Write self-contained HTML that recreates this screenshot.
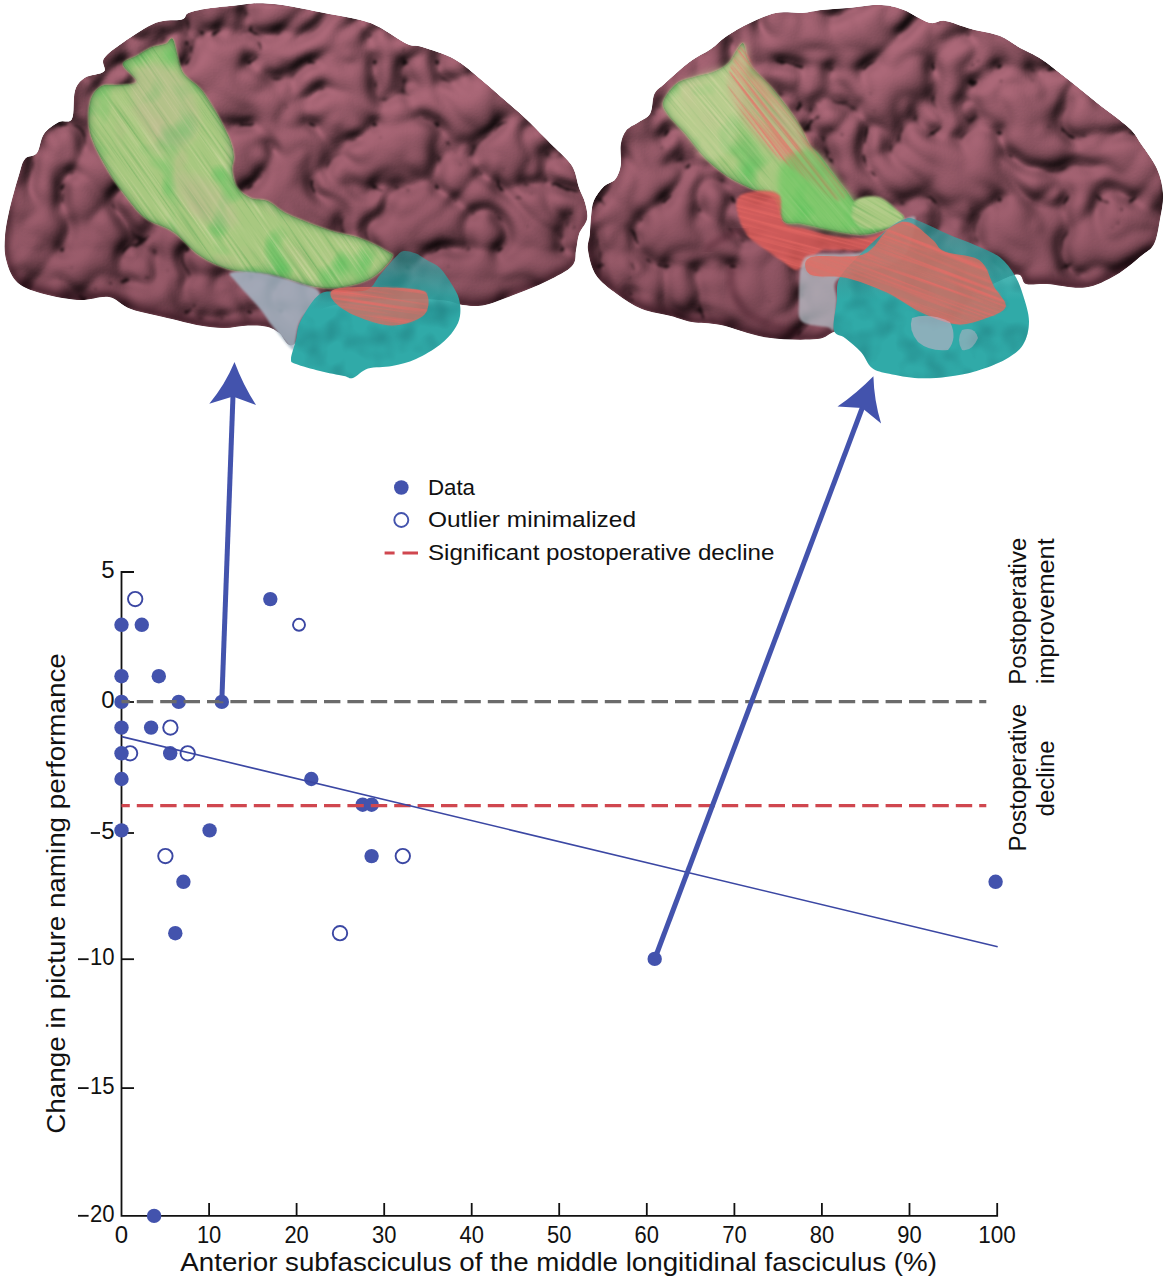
<!DOCTYPE html>
<html><head><meta charset="utf-8"><style>
html,body{margin:0;padding:0;background:#fff;width:1168px;height:1280px;overflow:hidden}
svg{display:block}
text{font-family:"Liberation Sans",sans-serif;fill:#111}
</style></head><body>
<svg width="1168" height="1280" viewBox="0 0 1168 1280">
<defs>
<filter color-interpolation-filters="sRGB" id="bumpsL" x="0" y="0" width="600" height="400" filterUnits="userSpaceOnUse">
 <feTurbulence type="turbulence" baseFrequency="0.016" numOctaves="2" seed="3" result="n"/>
 <feColorMatrix in="n" type="matrix" values="0 0 0 0 0  0 0 0 0 0  0 0 0 0 0  1 0 0 0 0" result="a"/>
 <feComponentTransfer in="a" result="b"><feFuncA type="table" tableValues="0 0.55 0.8 0.92 1 1 1"/></feComponentTransfer>
 <feGaussianBlur in="b" stdDeviation="3.5" result="bb"/>
 <feDiffuseLighting in="bb" surfaceScale="11" lighting-color="#fff" result="l"><feDistantLight azimuth="235" elevation="60"/></feDiffuseLighting>
 <feComponentTransfer in="b" result="b2"><feFuncA type="table" tableValues="0 0.7 1 1 1 1 1 1 1"/></feComponentTransfer>
 <feGaussianBlur in="b2" stdDeviation="1.4" result="bb2"/>
 <feColorMatrix in="bb2" type="matrix" values="0 0 0 0.85 0.15  0 0 0 0.85 0.15  0 0 0 0.85 0.15  0 0 0 0 1" result="dk"/>
 <feComposite in="l" in2="SourceGraphic" operator="arithmetic" k1="1.155" k2="0" k3="0" k4="0" result="m"/>
 <feComposite in="m" in2="dk" operator="arithmetic" k1="1" k2="0" k3="0" k4="0" result="m2"/>
 <feComposite in="m2" in2="SourceAlpha" operator="in"/>
</filter>
<filter color-interpolation-filters="sRGB" id="bumpsR" x="580" y="0" width="588" height="400" filterUnits="userSpaceOnUse">
 <feTurbulence type="turbulence" baseFrequency="0.015" numOctaves="2" seed="17" result="n"/>
 <feColorMatrix in="n" type="matrix" values="0 0 0 0 0  0 0 0 0 0  0 0 0 0 0  1 0 0 0 0" result="a"/>
 <feComponentTransfer in="a" result="b"><feFuncA type="table" tableValues="0 0.55 0.8 0.92 1 1 1"/></feComponentTransfer>
 <feGaussianBlur in="b" stdDeviation="3.5" result="bb"/>
 <feDiffuseLighting in="bb" surfaceScale="11" lighting-color="#fff" result="l"><feDistantLight azimuth="235" elevation="60"/></feDiffuseLighting>
 <feComponentTransfer in="b" result="b2"><feFuncA type="table" tableValues="0 0.7 1 1 1 1 1 1 1"/></feComponentTransfer>
 <feGaussianBlur in="b2" stdDeviation="1.4" result="bb2"/>
 <feColorMatrix in="bb2" type="matrix" values="0 0 0 0.85 0.15  0 0 0 0.85 0.15  0 0 0 0.85 0.15  0 0 0 0 1" result="dk"/>
 <feComposite in="l" in2="SourceGraphic" operator="arithmetic" k1="1.155" k2="0" k3="0" k4="0" result="m"/>
 <feComposite in="m" in2="dk" operator="arithmetic" k1="1" k2="0" k3="0" k4="0" result="m2"/>
 <feComposite in="m2" in2="SourceAlpha" operator="in"/>
</filter>
<filter color-interpolation-filters="sRGB" id="soft" x="-20%" y="-20%" width="140%" height="140%"><feGaussianBlur stdDeviation="1.3"/></filter>
<filter color-interpolation-filters="sRGB" id="disp" x="0" y="0" width="1168" height="400" filterUnits="userSpaceOnUse">
 <feTurbulence type="fractalNoise" baseFrequency="0.06" numOctaves="2" seed="5" result="dn"/>
 <feDisplacementMap in="SourceGraphic" in2="dn" scale="7" xChannelSelector="R" yChannelSelector="G"/>
</filter>
<filter color-interpolation-filters="sRGB" id="gedge" x="0" y="0" width="1168" height="400" filterUnits="userSpaceOnUse">
 <feGaussianBlur in="SourceAlpha" stdDeviation="4" result="bl"/>
 <feComposite in="SourceAlpha" in2="bl" operator="out" result="edge"/>
 <feFlood flood-color="#2f7a3a" flood-opacity="0.9"/>
 <feComposite in2="edge" operator="in" result="sh"/>
 <feComposite in="sh" in2="SourceAlpha" operator="in"/>
</filter>
<linearGradient id="shadeG" x1="0" y1="90" x2="0" y2="330" gradientUnits="userSpaceOnUse"><stop offset="0" stop-color="#2a0d16" stop-opacity="0"/><stop offset="1" stop-color="#2a0d16" stop-opacity="0.2"/></linearGradient>
<linearGradient id="cyL" x1="0" y1="250" x2="0" y2="310" gradientUnits="userSpaceOnUse"><stop offset="0" stop-color="#30aaa8" stop-opacity="0.5"/><stop offset="1" stop-color="#30aaa8" stop-opacity="1"/></linearGradient>
<linearGradient id="cyR" x1="0" y1="220" x2="0" y2="300" gradientUnits="userSpaceOnUse"><stop offset="0" stop-color="#30aaa8" stop-opacity="0.6"/><stop offset="1" stop-color="#30aaa8" stop-opacity="1"/></linearGradient>
<filter color-interpolation-filters="sRGB" id="fib" x="-600" y="-800" width="2400" height="2000" filterUnits="userSpaceOnUse">
 <feTurbulence type="fractalNoise" baseFrequency="0.01 0.45" numOctaves="2" seed="4" result="n1"/>
 <feTurbulence type="fractalNoise" baseFrequency="0.025" numOctaves="2" seed="31" result="n2"/>
 <feFlood flood-color="rgb(168,200,128)" result="base"/>
 <feColorMatrix in="n2" type="matrix" values="0 0 0 0 0.78  0 0 0 0 0.70  0 0 0 0 0.58  0 1.6 0 0 -0.9" result="pink"/>
 <feColorMatrix in="n2" type="matrix" values="0 0 0 0 0.34  0 0 0 0 0.76  0 0 0 0 0.36  3.0 0 0 0 -1.6" result="patch"/>
 <feColorMatrix in="n1" type="matrix" values="0 0 0 0 0.84  0 0 0 0 0.86  0 0 0 0 0.66  1.8 0 0 0 -0.95" result="lite"/>
 <feColorMatrix in="n1" type="matrix" values="0 0 0 0 0.38  0 0 0 0 0.66  0 0 0 0 0.34  -1.8 0 0 0 0.8" result="dark"/>
 <feMerge><feMergeNode in="base"/><feMergeNode in="pink"/><feMergeNode in="patch"/><feMergeNode in="lite"/><feMergeNode in="dark"/></feMerge>
</filter>
<filter color-interpolation-filters="sRGB" id="rim" x="0" y="0" width="1168" height="400" filterUnits="userSpaceOnUse">
 <feGaussianBlur in="SourceAlpha" stdDeviation="5" result="bl"/>
 <feOffset in="bl" dx="2" dy="-6" result="off"/>
 <feComposite in="SourceAlpha" in2="off" operator="out" result="edge"/>
 <feGaussianBlur in="edge" stdDeviation="1.5" result="edge2"/>
 <feFlood flood-color="#2a0f18" flood-opacity="0.75"/>
 <feComposite in2="edge2" operator="in" result="sh"/>
 <feComposite in="sh" in2="SourceAlpha" operator="in"/>
</filter>
<filter color-interpolation-filters="sRGB" id="cyt" x="0" y="0" width="1168" height="400" filterUnits="userSpaceOnUse">
 <feTurbulence type="fractalNoise" baseFrequency="0.04" numOctaves="2" seed="8" result="n"/>
 <feColorMatrix in="n" type="matrix" values="0 0 0 0 0  0 0 0 0 0  0 0 0 0 0  -1.4 0 0 0 0.8" result="a"/>
 <feFlood flood-color="#1d7478" result="f"/>
 <feComposite in="f" in2="a" operator="in" result="d"/>
 <feComposite in="d" in2="SourceAlpha" operator="in"/>
</filter>
<filter color-interpolation-filters="sRGB" id="redt" x="-600" y="-800" width="2400" height="2000" filterUnits="userSpaceOnUse">
 <feTurbulence type="fractalNoise" baseFrequency="0.008 0.3" numOctaves="2" seed="12" result="n"/>
 <feColorMatrix in="n" type="matrix" values="0 0 0 0 0.92  0 0 0 0 0.42  0 0 0 0 0.40  3 0 0 0 -1.3" result="a"/>
 <feComposite in="a" in2="SourceAlpha" operator="in"/>
</filter>
<filter color-interpolation-filters="sRGB" id="soft3"><feGaussianBlur stdDeviation="3"/></filter>
</defs>
<path d="M5.0 237.0 C5.5 229.2 6.7 222.3 9.0 212.0 C11.3 201.7 16.3 183.8 19.0 175.0 C21.7 166.2 22.0 162.7 25.0 159.0 C28.0 155.3 33.8 157.2 37.0 153.0 C40.2 148.8 40.3 139.2 44.0 134.0 C47.7 128.8 54.3 124.5 59.0 122.0 C63.7 119.5 69.3 124.2 72.0 119.0 C74.7 113.8 72.9 97.8 75.0 91.0 C77.1 84.2 79.8 81.2 84.6 78.0 C89.4 74.8 100.8 74.8 104.0 71.6 C107.2 68.4 100.7 63.5 104.0 58.6 C107.3 53.7 114.9 48.3 123.6 42.3 C132.3 36.3 146.3 26.6 156.0 22.8 C165.7 19.0 176.6 21.1 182.0 19.5 C187.4 17.9 183.8 14.9 188.7 13.0 C193.6 11.1 202.8 9.4 211.5 8.1 C220.2 6.8 232.6 5.7 240.7 4.9 C248.8 4.1 252.1 3.1 260.0 3.3 C267.9 3.5 276.5 4.2 288.0 6.0 C299.5 7.8 317.0 11.7 329.0 14.0 C341.0 16.3 351.7 17.8 360.0 20.0 C368.3 22.2 371.2 23.0 379.0 27.0 C386.8 31.0 399.8 40.7 407.0 44.0 C414.2 47.3 414.2 44.5 422.0 47.0 C429.8 49.5 444.5 53.8 454.0 59.0 C463.5 64.2 471.2 71.7 479.0 78.0 C486.8 84.3 493.2 90.2 501.0 97.0 C508.8 103.8 519.3 112.8 526.0 119.0 C532.7 125.2 536.3 129.3 541.0 134.0 C545.7 138.7 548.8 141.7 554.0 147.0 C559.2 152.3 567.8 159.2 572.0 166.0 C576.2 172.8 576.8 181.8 579.0 188.0 C581.2 194.2 583.7 197.8 585.0 203.0 C586.3 208.2 588.0 213.8 587.0 219.0 C586.0 224.2 580.8 228.8 579.0 234.0 C577.2 239.2 577.2 244.7 576.0 250.0 C574.8 255.3 576.8 260.8 572.0 266.0 C567.2 271.2 556.3 276.3 547.0 281.0 C537.7 285.7 526.3 290.0 516.0 294.0 C505.7 298.0 493.8 303.2 485.0 305.0 C476.2 306.8 470.5 305.8 463.0 305.0 C455.5 304.2 453.8 300.8 440.0 300.0 C426.2 299.2 400.0 298.3 380.0 300.0 C360.0 301.7 334.4 302.6 320.0 310.0 C305.6 317.4 300.3 340.9 293.5 344.7 C286.7 348.5 283.4 335.7 279.0 332.7 C274.6 329.7 272.2 327.9 267.0 326.7 C261.8 325.5 255.2 325.3 248.0 325.5 C240.8 325.7 232.0 328.0 224.0 328.0 C216.0 328.0 208.7 327.0 200.0 325.5 C191.3 324.0 183.5 321.8 172.0 319.0 C160.5 316.2 141.5 312.7 131.0 309.0 C120.5 305.3 117.8 298.5 109.0 297.0 C100.2 295.5 90.0 300.8 78.0 300.0 C66.0 299.2 47.3 295.2 37.0 292.0 C26.7 288.8 21.2 286.5 16.0 281.0 C10.8 275.5 7.8 266.3 6.0 259.0 C4.2 251.7 4.5 244.8 5.0 237.0Z" fill="#955a68" filter="url(#bumpsL)"/>
<path d="M5.0 237.0 C5.5 229.2 6.7 222.3 9.0 212.0 C11.3 201.7 16.3 183.8 19.0 175.0 C21.7 166.2 22.0 162.7 25.0 159.0 C28.0 155.3 33.8 157.2 37.0 153.0 C40.2 148.8 40.3 139.2 44.0 134.0 C47.7 128.8 54.3 124.5 59.0 122.0 C63.7 119.5 69.3 124.2 72.0 119.0 C74.7 113.8 72.9 97.8 75.0 91.0 C77.1 84.2 79.8 81.2 84.6 78.0 C89.4 74.8 100.8 74.8 104.0 71.6 C107.2 68.4 100.7 63.5 104.0 58.6 C107.3 53.7 114.9 48.3 123.6 42.3 C132.3 36.3 146.3 26.6 156.0 22.8 C165.7 19.0 176.6 21.1 182.0 19.5 C187.4 17.9 183.8 14.9 188.7 13.0 C193.6 11.1 202.8 9.4 211.5 8.1 C220.2 6.8 232.6 5.7 240.7 4.9 C248.8 4.1 252.1 3.1 260.0 3.3 C267.9 3.5 276.5 4.2 288.0 6.0 C299.5 7.8 317.0 11.7 329.0 14.0 C341.0 16.3 351.7 17.8 360.0 20.0 C368.3 22.2 371.2 23.0 379.0 27.0 C386.8 31.0 399.8 40.7 407.0 44.0 C414.2 47.3 414.2 44.5 422.0 47.0 C429.8 49.5 444.5 53.8 454.0 59.0 C463.5 64.2 471.2 71.7 479.0 78.0 C486.8 84.3 493.2 90.2 501.0 97.0 C508.8 103.8 519.3 112.8 526.0 119.0 C532.7 125.2 536.3 129.3 541.0 134.0 C545.7 138.7 548.8 141.7 554.0 147.0 C559.2 152.3 567.8 159.2 572.0 166.0 C576.2 172.8 576.8 181.8 579.0 188.0 C581.2 194.2 583.7 197.8 585.0 203.0 C586.3 208.2 588.0 213.8 587.0 219.0 C586.0 224.2 580.8 228.8 579.0 234.0 C577.2 239.2 577.2 244.7 576.0 250.0 C574.8 255.3 576.8 260.8 572.0 266.0 C567.2 271.2 556.3 276.3 547.0 281.0 C537.7 285.7 526.3 290.0 516.0 294.0 C505.7 298.0 493.8 303.2 485.0 305.0 C476.2 306.8 470.5 305.8 463.0 305.0 C455.5 304.2 453.8 300.8 440.0 300.0 C426.2 299.2 400.0 298.3 380.0 300.0 C360.0 301.7 334.4 302.6 320.0 310.0 C305.6 317.4 300.3 340.9 293.5 344.7 C286.7 348.5 283.4 335.7 279.0 332.7 C274.6 329.7 272.2 327.9 267.0 326.7 C261.8 325.5 255.2 325.3 248.0 325.5 C240.8 325.7 232.0 328.0 224.0 328.0 C216.0 328.0 208.7 327.0 200.0 325.5 C191.3 324.0 183.5 321.8 172.0 319.0 C160.5 316.2 141.5 312.7 131.0 309.0 C120.5 305.3 117.8 298.5 109.0 297.0 C100.2 295.5 90.0 300.8 78.0 300.0 C66.0 299.2 47.3 295.2 37.0 292.0 C26.7 288.8 21.2 286.5 16.0 281.0 C10.8 275.5 7.8 266.3 6.0 259.0 C4.2 251.7 4.5 244.8 5.0 237.0Z" fill="url(#shadeG)"/>
<path d="M5.0 237.0 C5.5 229.2 6.7 222.3 9.0 212.0 C11.3 201.7 16.3 183.8 19.0 175.0 C21.7 166.2 22.0 162.7 25.0 159.0 C28.0 155.3 33.8 157.2 37.0 153.0 C40.2 148.8 40.3 139.2 44.0 134.0 C47.7 128.8 54.3 124.5 59.0 122.0 C63.7 119.5 69.3 124.2 72.0 119.0 C74.7 113.8 72.9 97.8 75.0 91.0 C77.1 84.2 79.8 81.2 84.6 78.0 C89.4 74.8 100.8 74.8 104.0 71.6 C107.2 68.4 100.7 63.5 104.0 58.6 C107.3 53.7 114.9 48.3 123.6 42.3 C132.3 36.3 146.3 26.6 156.0 22.8 C165.7 19.0 176.6 21.1 182.0 19.5 C187.4 17.9 183.8 14.9 188.7 13.0 C193.6 11.1 202.8 9.4 211.5 8.1 C220.2 6.8 232.6 5.7 240.7 4.9 C248.8 4.1 252.1 3.1 260.0 3.3 C267.9 3.5 276.5 4.2 288.0 6.0 C299.5 7.8 317.0 11.7 329.0 14.0 C341.0 16.3 351.7 17.8 360.0 20.0 C368.3 22.2 371.2 23.0 379.0 27.0 C386.8 31.0 399.8 40.7 407.0 44.0 C414.2 47.3 414.2 44.5 422.0 47.0 C429.8 49.5 444.5 53.8 454.0 59.0 C463.5 64.2 471.2 71.7 479.0 78.0 C486.8 84.3 493.2 90.2 501.0 97.0 C508.8 103.8 519.3 112.8 526.0 119.0 C532.7 125.2 536.3 129.3 541.0 134.0 C545.7 138.7 548.8 141.7 554.0 147.0 C559.2 152.3 567.8 159.2 572.0 166.0 C576.2 172.8 576.8 181.8 579.0 188.0 C581.2 194.2 583.7 197.8 585.0 203.0 C586.3 208.2 588.0 213.8 587.0 219.0 C586.0 224.2 580.8 228.8 579.0 234.0 C577.2 239.2 577.2 244.7 576.0 250.0 C574.8 255.3 576.8 260.8 572.0 266.0 C567.2 271.2 556.3 276.3 547.0 281.0 C537.7 285.7 526.3 290.0 516.0 294.0 C505.7 298.0 493.8 303.2 485.0 305.0 C476.2 306.8 470.5 305.8 463.0 305.0 C455.5 304.2 453.8 300.8 440.0 300.0 C426.2 299.2 400.0 298.3 380.0 300.0 C360.0 301.7 334.4 302.6 320.0 310.0 C305.6 317.4 300.3 340.9 293.5 344.7 C286.7 348.5 283.4 335.7 279.0 332.7 C274.6 329.7 272.2 327.9 267.0 326.7 C261.8 325.5 255.2 325.3 248.0 325.5 C240.8 325.7 232.0 328.0 224.0 328.0 C216.0 328.0 208.7 327.0 200.0 325.5 C191.3 324.0 183.5 321.8 172.0 319.0 C160.5 316.2 141.5 312.7 131.0 309.0 C120.5 305.3 117.8 298.5 109.0 297.0 C100.2 295.5 90.0 300.8 78.0 300.0 C66.0 299.2 47.3 295.2 37.0 292.0 C26.7 288.8 21.2 286.5 16.0 281.0 C10.8 275.5 7.8 266.3 6.0 259.0 C4.2 251.7 4.5 244.8 5.0 237.0Z" fill="#000" filter="url(#rim)"/>
<mask id="gL" maskUnits="userSpaceOnUse" x="0" y="0" width="1168" height="400"><path d="M172.5 38.6 C174.5 40.6 176.2 50.9 177.6 55.7 C179.0 60.6 179.6 64.3 181.0 67.7 C182.4 71.1 182.8 72.6 186.0 76.0 C189.2 79.4 196.0 83.7 200.0 88.0 C204.0 92.3 206.7 96.8 210.0 102.0 C213.3 107.2 216.6 112.5 220.0 119.0 C223.4 125.5 228.4 135.0 230.7 141.3 C233.0 147.6 233.7 151.8 234.0 156.7 C234.3 161.5 231.8 165.3 232.4 170.4 C233.0 175.5 234.4 182.9 237.5 187.5 C240.6 192.1 245.9 195.8 251.0 198.0 C256.1 200.2 261.8 198.3 268.0 201.0 C274.2 203.7 277.8 209.2 288.0 214.0 C298.2 218.8 317.0 226.0 329.0 230.0 C341.0 234.0 350.3 234.5 360.0 238.0 C369.7 241.5 381.7 247.7 387.0 251.0 C392.3 254.3 394.4 253.6 392.0 258.0 C389.6 262.4 380.6 272.7 372.6 277.5 C364.6 282.3 353.6 285.4 344.0 287.0 C334.4 288.6 327.0 289.0 315.0 287.0 C303.0 285.0 286.0 277.8 272.0 275.0 C258.0 272.2 243.0 273.2 231.0 270.0 C219.0 266.8 209.7 262.3 200.0 256.0 C190.3 249.7 182.2 238.3 173.0 232.0 C163.8 225.7 153.4 224.6 145.0 218.0 C136.6 211.4 129.3 201.2 122.8 192.7 C116.2 184.2 111.2 177.0 105.7 167.0 C100.2 157.0 92.6 143.5 90.0 132.7 C87.4 121.9 88.2 109.7 90.0 102.0 C91.8 94.3 95.6 89.4 100.5 86.5 C105.4 83.6 113.4 85.6 119.4 84.8 C125.4 84.0 135.9 84.8 136.5 81.4 C137.1 78.0 122.8 68.5 122.8 64.2 C122.8 59.9 131.6 58.6 136.5 55.7 C141.4 52.8 147.2 49.0 152.0 47.0 C156.8 45.0 162.2 45.1 165.6 43.7 C169.0 42.3 170.5 36.6 172.5 38.6Z" fill="#fff" filter="url(#soft)"/></mask>
<g mask="url(#gL)"><g transform="rotate(55 240 170)"><rect x="-60.0" y="-130.0" width="600" height="600" filter="url(#fib)"/></g></g>
<path d="M172.5 38.6 C174.5 40.6 176.2 50.9 177.6 55.7 C179.0 60.6 179.6 64.3 181.0 67.7 C182.4 71.1 182.8 72.6 186.0 76.0 C189.2 79.4 196.0 83.7 200.0 88.0 C204.0 92.3 206.7 96.8 210.0 102.0 C213.3 107.2 216.6 112.5 220.0 119.0 C223.4 125.5 228.4 135.0 230.7 141.3 C233.0 147.6 233.7 151.8 234.0 156.7 C234.3 161.5 231.8 165.3 232.4 170.4 C233.0 175.5 234.4 182.9 237.5 187.5 C240.6 192.1 245.9 195.8 251.0 198.0 C256.1 200.2 261.8 198.3 268.0 201.0 C274.2 203.7 277.8 209.2 288.0 214.0 C298.2 218.8 317.0 226.0 329.0 230.0 C341.0 234.0 350.3 234.5 360.0 238.0 C369.7 241.5 381.7 247.7 387.0 251.0 C392.3 254.3 394.4 253.6 392.0 258.0 C389.6 262.4 380.6 272.7 372.6 277.5 C364.6 282.3 353.6 285.4 344.0 287.0 C334.4 288.6 327.0 289.0 315.0 287.0 C303.0 285.0 286.0 277.8 272.0 275.0 C258.0 272.2 243.0 273.2 231.0 270.0 C219.0 266.8 209.7 262.3 200.0 256.0 C190.3 249.7 182.2 238.3 173.0 232.0 C163.8 225.7 153.4 224.6 145.0 218.0 C136.6 211.4 129.3 201.2 122.8 192.7 C116.2 184.2 111.2 177.0 105.7 167.0 C100.2 157.0 92.6 143.5 90.0 132.7 C87.4 121.9 88.2 109.7 90.0 102.0 C91.8 94.3 95.6 89.4 100.5 86.5 C105.4 83.6 113.4 85.6 119.4 84.8 C125.4 84.0 135.9 84.8 136.5 81.4 C137.1 78.0 122.8 68.5 122.8 64.2 C122.8 59.9 131.6 58.6 136.5 55.7 C141.4 52.8 147.2 49.0 152.0 47.0 C156.8 45.0 162.2 45.1 165.6 43.7 C169.0 42.3 170.5 36.6 172.5 38.6Z" fill="#000" filter="url(#gedge)"/>
<ellipse cx="165" cy="105" rx="30" ry="45" transform="rotate(-30 165 105)" fill="#c9b79a" opacity="0.35" filter="url(#soft3)"/>
<ellipse cx="205" cy="200" rx="18" ry="40" transform="rotate(-50 205 200)" fill="#c9b79a" opacity="0.3" filter="url(#soft3)"/>
<path d="M231.0 272.7 C235.0 271.1 249.2 271.1 260.0 272.7 C270.8 274.2 286.0 278.4 296.0 282.0 C306.0 285.6 319.2 287.6 320.0 294.0 C320.8 300.4 304.7 313.0 300.7 320.7 C296.7 328.4 297.3 335.1 296.0 340.0 C294.7 344.9 297.0 352.4 293.0 350.0 C289.0 347.6 277.5 332.4 272.0 325.5 C266.5 318.6 266.0 315.9 260.0 308.7 C254.0 301.4 240.8 288.0 236.0 282.0 C231.2 276.0 227.0 274.2 231.0 272.7Z" fill="#a5b6c4" opacity="0.85" filter="url(#soft)"/>
<path d="M320.0 294.0 C327.2 289.2 336.0 292.8 344.0 292.0 C352.0 291.2 362.0 292.3 368.0 289.5 C374.0 286.7 375.2 280.6 380.0 275.0 C384.8 269.4 392.6 260.0 396.6 256.0 C400.6 252.0 400.8 251.4 404.0 251.0 C407.2 250.6 412.0 252.0 416.0 253.6 C420.0 255.2 424.0 258.4 428.0 260.8 C432.0 263.2 436.0 264.0 440.0 268.0 C444.0 272.0 448.8 279.5 452.0 284.7 C455.2 289.9 457.7 293.8 459.0 299.0 C460.3 304.2 460.8 310.8 460.0 316.0 C459.2 321.2 457.3 325.2 454.0 330.0 C450.7 334.8 446.3 339.9 440.0 344.7 C433.7 349.5 424.0 355.4 416.0 359.0 C408.0 362.6 400.0 364.4 392.0 366.0 C384.0 367.6 374.5 366.6 368.0 368.6 C361.5 370.6 357.0 376.8 353.0 378.0 C349.0 379.2 349.5 377.2 344.0 376.0 C338.5 374.8 328.0 373.0 320.0 371.0 C312.0 369.0 300.8 366.0 296.0 364.0 C291.2 362.0 291.0 363.0 291.0 359.0 C291.0 355.0 294.4 346.4 296.0 340.0 C297.6 333.6 296.7 328.4 300.7 320.7 C304.7 313.0 312.8 298.8 320.0 294.0Z" fill="url(#cyL)"/>
<path d="M320.0 294.0 C327.2 289.2 336.0 292.8 344.0 292.0 C352.0 291.2 362.0 292.3 368.0 289.5 C374.0 286.7 375.2 280.6 380.0 275.0 C384.8 269.4 392.6 260.0 396.6 256.0 C400.6 252.0 400.8 251.4 404.0 251.0 C407.2 250.6 412.0 252.0 416.0 253.6 C420.0 255.2 424.0 258.4 428.0 260.8 C432.0 263.2 436.0 264.0 440.0 268.0 C444.0 272.0 448.8 279.5 452.0 284.7 C455.2 289.9 457.7 293.8 459.0 299.0 C460.3 304.2 460.8 310.8 460.0 316.0 C459.2 321.2 457.3 325.2 454.0 330.0 C450.7 334.8 446.3 339.9 440.0 344.7 C433.7 349.5 424.0 355.4 416.0 359.0 C408.0 362.6 400.0 364.4 392.0 366.0 C384.0 367.6 374.5 366.6 368.0 368.6 C361.5 370.6 357.0 376.8 353.0 378.0 C349.0 379.2 349.5 377.2 344.0 376.0 C338.5 374.8 328.0 373.0 320.0 371.0 C312.0 369.0 300.8 366.0 296.0 364.0 C291.2 362.0 291.0 363.0 291.0 359.0 C291.0 355.0 294.4 346.4 296.0 340.0 C297.6 333.6 296.7 328.4 300.7 320.7 C304.7 313.0 312.8 298.8 320.0 294.0Z" fill="#30aaa8" filter="url(#cyt)" opacity="0.8"/>
<path d="M334.0 289.5 C339.7 287.1 354.3 287.0 368.0 287.0 C381.7 287.0 406.0 287.9 416.0 289.5 C426.0 291.1 426.8 292.3 428.0 296.7 C429.2 301.1 429.0 311.2 423.0 316.0 C417.0 320.8 403.2 325.5 392.0 325.5 C380.8 325.5 365.7 320.0 356.0 316.0 C346.3 312.0 337.7 305.9 334.0 301.5 C330.3 297.1 328.3 291.9 334.0 289.5Z" fill="#dc6a5e" opacity="0.75"/>
<mask id="rL" maskUnits="userSpaceOnUse" x="0" y="0" width="1168" height="400"><path d="M334.0 289.5 C339.7 287.1 354.3 287.0 368.0 287.0 C381.7 287.0 406.0 287.9 416.0 289.5 C426.0 291.1 426.8 292.3 428.0 296.7 C429.2 301.1 429.0 311.2 423.0 316.0 C417.0 320.8 403.2 325.5 392.0 325.5 C380.8 325.5 365.7 320.0 356.0 316.0 C346.3 312.0 337.7 305.9 334.0 301.5 C330.3 297.1 328.3 291.9 334.0 289.5Z" fill="#fff" filter="url(#soft)"/></mask>
<g mask="url(#rL)" opacity="0.8"><g transform="rotate(8 380 305)"><rect x="280.0" y="205.0" width="200" height="200" filter="url(#redt)"/></g></g>
<path d="M802.0 13.0 C809.7 12.5 814.3 10.8 822.0 10.0 C829.7 9.2 838.3 8.8 848.0 8.0 C857.7 7.2 870.8 4.7 880.0 5.0 C889.2 5.3 894.8 6.8 903.0 9.8 C911.2 12.8 922.0 20.9 929.0 22.8 C936.0 24.7 938.0 20.0 945.0 21.0 C952.0 22.0 961.8 26.5 971.0 29.0 C980.2 31.5 991.8 32.8 1000.0 36.0 C1008.2 39.2 1013.2 44.2 1020.0 48.0 C1026.8 51.8 1033.3 54.0 1041.0 59.0 C1048.7 64.0 1056.7 70.7 1066.0 78.0 C1075.3 85.3 1086.5 94.7 1097.0 103.0 C1107.5 111.3 1121.7 121.2 1129.0 128.0 C1136.3 134.8 1136.3 137.2 1141.0 144.0 C1145.7 150.8 1153.3 160.7 1157.0 169.0 C1160.7 177.3 1162.5 185.7 1163.0 194.0 C1163.5 202.3 1161.5 210.7 1160.0 219.0 C1158.5 227.3 1157.2 237.8 1154.0 244.0 C1150.8 250.2 1147.3 250.8 1141.0 256.0 C1134.7 261.2 1125.3 269.8 1116.0 275.0 C1106.7 280.2 1096.5 286.0 1085.0 287.5 C1073.5 289.0 1056.8 284.6 1047.0 284.0 C1037.2 283.4 1031.5 285.5 1026.0 284.0 C1020.5 282.5 1025.0 272.3 1014.0 275.0 C1003.0 277.7 979.0 292.5 960.0 300.0 C941.0 307.5 920.0 315.0 900.0 320.0 C880.0 325.0 853.8 326.8 840.0 330.0 C826.2 333.2 829.2 337.8 817.0 339.0 C804.8 340.2 783.0 339.8 767.0 337.5 C751.0 335.2 733.5 327.6 721.0 325.0 C708.5 322.4 700.3 323.5 692.0 322.0 C683.7 320.5 679.3 318.2 671.0 316.0 C662.7 313.8 651.0 312.7 642.0 309.0 C633.0 305.3 624.7 299.7 617.0 294.0 C609.3 288.3 600.8 282.3 596.0 275.0 C591.2 267.7 589.0 256.7 588.0 250.0 C587.0 243.3 589.2 240.9 589.8 235.0 C590.3 229.1 590.6 220.4 591.3 214.7 C592.0 209.0 591.9 205.3 594.0 200.6 C596.1 195.9 600.4 190.1 603.9 186.6 C607.4 183.1 612.4 183.0 615.2 179.5 C618.0 176.0 619.9 171.3 620.8 165.5 C621.7 159.7 619.9 150.3 620.8 144.4 C621.7 138.5 623.4 134.1 626.4 130.3 C629.4 126.6 635.0 124.7 639.0 121.9 C643.0 119.1 647.7 118.1 650.3 113.4 C652.9 108.7 652.1 98.7 654.5 93.8 C656.9 88.9 660.4 87.7 664.4 83.9 C668.4 80.2 673.8 75.3 678.5 71.3 C683.2 67.3 687.1 63.7 692.5 60.0 C697.9 56.3 705.2 53.0 711.0 49.0 C716.8 45.0 720.5 40.3 727.0 36.0 C733.5 31.7 741.8 26.8 750.0 23.0 C758.2 19.2 767.3 14.7 776.0 13.0 C784.7 11.3 794.3 13.5 802.0 13.0Z" fill="#955a68" filter="url(#bumpsR)"/>
<path d="M802.0 13.0 C809.7 12.5 814.3 10.8 822.0 10.0 C829.7 9.2 838.3 8.8 848.0 8.0 C857.7 7.2 870.8 4.7 880.0 5.0 C889.2 5.3 894.8 6.8 903.0 9.8 C911.2 12.8 922.0 20.9 929.0 22.8 C936.0 24.7 938.0 20.0 945.0 21.0 C952.0 22.0 961.8 26.5 971.0 29.0 C980.2 31.5 991.8 32.8 1000.0 36.0 C1008.2 39.2 1013.2 44.2 1020.0 48.0 C1026.8 51.8 1033.3 54.0 1041.0 59.0 C1048.7 64.0 1056.7 70.7 1066.0 78.0 C1075.3 85.3 1086.5 94.7 1097.0 103.0 C1107.5 111.3 1121.7 121.2 1129.0 128.0 C1136.3 134.8 1136.3 137.2 1141.0 144.0 C1145.7 150.8 1153.3 160.7 1157.0 169.0 C1160.7 177.3 1162.5 185.7 1163.0 194.0 C1163.5 202.3 1161.5 210.7 1160.0 219.0 C1158.5 227.3 1157.2 237.8 1154.0 244.0 C1150.8 250.2 1147.3 250.8 1141.0 256.0 C1134.7 261.2 1125.3 269.8 1116.0 275.0 C1106.7 280.2 1096.5 286.0 1085.0 287.5 C1073.5 289.0 1056.8 284.6 1047.0 284.0 C1037.2 283.4 1031.5 285.5 1026.0 284.0 C1020.5 282.5 1025.0 272.3 1014.0 275.0 C1003.0 277.7 979.0 292.5 960.0 300.0 C941.0 307.5 920.0 315.0 900.0 320.0 C880.0 325.0 853.8 326.8 840.0 330.0 C826.2 333.2 829.2 337.8 817.0 339.0 C804.8 340.2 783.0 339.8 767.0 337.5 C751.0 335.2 733.5 327.6 721.0 325.0 C708.5 322.4 700.3 323.5 692.0 322.0 C683.7 320.5 679.3 318.2 671.0 316.0 C662.7 313.8 651.0 312.7 642.0 309.0 C633.0 305.3 624.7 299.7 617.0 294.0 C609.3 288.3 600.8 282.3 596.0 275.0 C591.2 267.7 589.0 256.7 588.0 250.0 C587.0 243.3 589.2 240.9 589.8 235.0 C590.3 229.1 590.6 220.4 591.3 214.7 C592.0 209.0 591.9 205.3 594.0 200.6 C596.1 195.9 600.4 190.1 603.9 186.6 C607.4 183.1 612.4 183.0 615.2 179.5 C618.0 176.0 619.9 171.3 620.8 165.5 C621.7 159.7 619.9 150.3 620.8 144.4 C621.7 138.5 623.4 134.1 626.4 130.3 C629.4 126.6 635.0 124.7 639.0 121.9 C643.0 119.1 647.7 118.1 650.3 113.4 C652.9 108.7 652.1 98.7 654.5 93.8 C656.9 88.9 660.4 87.7 664.4 83.9 C668.4 80.2 673.8 75.3 678.5 71.3 C683.2 67.3 687.1 63.7 692.5 60.0 C697.9 56.3 705.2 53.0 711.0 49.0 C716.8 45.0 720.5 40.3 727.0 36.0 C733.5 31.7 741.8 26.8 750.0 23.0 C758.2 19.2 767.3 14.7 776.0 13.0 C784.7 11.3 794.3 13.5 802.0 13.0Z" fill="url(#shadeG)"/>
<path d="M802.0 13.0 C809.7 12.5 814.3 10.8 822.0 10.0 C829.7 9.2 838.3 8.8 848.0 8.0 C857.7 7.2 870.8 4.7 880.0 5.0 C889.2 5.3 894.8 6.8 903.0 9.8 C911.2 12.8 922.0 20.9 929.0 22.8 C936.0 24.7 938.0 20.0 945.0 21.0 C952.0 22.0 961.8 26.5 971.0 29.0 C980.2 31.5 991.8 32.8 1000.0 36.0 C1008.2 39.2 1013.2 44.2 1020.0 48.0 C1026.8 51.8 1033.3 54.0 1041.0 59.0 C1048.7 64.0 1056.7 70.7 1066.0 78.0 C1075.3 85.3 1086.5 94.7 1097.0 103.0 C1107.5 111.3 1121.7 121.2 1129.0 128.0 C1136.3 134.8 1136.3 137.2 1141.0 144.0 C1145.7 150.8 1153.3 160.7 1157.0 169.0 C1160.7 177.3 1162.5 185.7 1163.0 194.0 C1163.5 202.3 1161.5 210.7 1160.0 219.0 C1158.5 227.3 1157.2 237.8 1154.0 244.0 C1150.8 250.2 1147.3 250.8 1141.0 256.0 C1134.7 261.2 1125.3 269.8 1116.0 275.0 C1106.7 280.2 1096.5 286.0 1085.0 287.5 C1073.5 289.0 1056.8 284.6 1047.0 284.0 C1037.2 283.4 1031.5 285.5 1026.0 284.0 C1020.5 282.5 1025.0 272.3 1014.0 275.0 C1003.0 277.7 979.0 292.5 960.0 300.0 C941.0 307.5 920.0 315.0 900.0 320.0 C880.0 325.0 853.8 326.8 840.0 330.0 C826.2 333.2 829.2 337.8 817.0 339.0 C804.8 340.2 783.0 339.8 767.0 337.5 C751.0 335.2 733.5 327.6 721.0 325.0 C708.5 322.4 700.3 323.5 692.0 322.0 C683.7 320.5 679.3 318.2 671.0 316.0 C662.7 313.8 651.0 312.7 642.0 309.0 C633.0 305.3 624.7 299.7 617.0 294.0 C609.3 288.3 600.8 282.3 596.0 275.0 C591.2 267.7 589.0 256.7 588.0 250.0 C587.0 243.3 589.2 240.9 589.8 235.0 C590.3 229.1 590.6 220.4 591.3 214.7 C592.0 209.0 591.9 205.3 594.0 200.6 C596.1 195.9 600.4 190.1 603.9 186.6 C607.4 183.1 612.4 183.0 615.2 179.5 C618.0 176.0 619.9 171.3 620.8 165.5 C621.7 159.7 619.9 150.3 620.8 144.4 C621.7 138.5 623.4 134.1 626.4 130.3 C629.4 126.6 635.0 124.7 639.0 121.9 C643.0 119.1 647.7 118.1 650.3 113.4 C652.9 108.7 652.1 98.7 654.5 93.8 C656.9 88.9 660.4 87.7 664.4 83.9 C668.4 80.2 673.8 75.3 678.5 71.3 C683.2 67.3 687.1 63.7 692.5 60.0 C697.9 56.3 705.2 53.0 711.0 49.0 C716.8 45.0 720.5 40.3 727.0 36.0 C733.5 31.7 741.8 26.8 750.0 23.0 C758.2 19.2 767.3 14.7 776.0 13.0 C784.7 11.3 794.3 13.5 802.0 13.0Z" fill="#000" filter="url(#rim)"/>
<mask id="gR" maskUnits="userSpaceOnUse" x="0" y="0" width="1168" height="400"><path d="M663.4 101.2 C664.9 96.0 671.5 87.5 676.7 83.4 C681.9 79.3 688.6 78.6 694.5 76.7 C700.4 74.8 706.7 74.5 712.3 72.3 C717.9 70.1 723.8 67.1 727.9 63.4 C732.0 59.7 734.2 53.3 736.8 50.0 C739.4 46.7 741.6 41.9 743.5 43.4 C745.4 44.9 746.1 54.6 748.0 59.0 C749.9 63.4 750.9 65.5 754.6 70.0 C758.3 74.5 764.6 79.4 770.2 85.7 C775.8 92.0 782.8 101.0 788.0 108.0 C793.2 115.0 797.7 121.7 801.4 128.0 C805.1 134.3 807.3 141.4 810.3 145.8 C813.3 150.2 815.5 150.2 819.2 154.7 C822.9 159.1 828.0 166.6 832.5 172.5 C837.0 178.4 841.9 185.1 846.0 190.3 C850.1 195.5 852.6 202.1 857.0 203.6 C861.4 205.1 867.0 198.5 872.6 199.2 C878.2 199.9 885.2 205.0 890.4 208.0 C895.6 211.0 903.0 214.0 903.8 217.0 C904.5 220.0 901.6 222.9 894.9 225.9 C888.2 228.9 874.1 234.1 863.7 234.8 C853.3 235.6 842.9 232.2 832.5 230.4 C822.1 228.6 809.5 225.2 801.4 223.7 C793.2 222.2 788.0 225.6 783.6 221.5 C779.2 217.4 779.5 204.4 774.7 199.2 C769.9 194.0 762.4 194.0 754.6 190.3 C746.8 186.6 736.0 182.1 727.9 176.9 C719.8 171.7 712.8 166.2 705.7 159.1 C698.7 152.0 691.9 142.0 685.6 134.6 C679.3 127.2 671.5 120.2 667.8 114.6 C664.1 109.0 661.9 106.4 663.4 101.2Z" fill="#fff" filter="url(#soft)"/></mask>
<g mask="url(#gR)"><g transform="rotate(50 780 150)"><rect x="480.0" y="-150.0" width="600" height="600" filter="url(#fib)"/></g></g>
<path d="M663.4 101.2 C664.9 96.0 671.5 87.5 676.7 83.4 C681.9 79.3 688.6 78.6 694.5 76.7 C700.4 74.8 706.7 74.5 712.3 72.3 C717.9 70.1 723.8 67.1 727.9 63.4 C732.0 59.7 734.2 53.3 736.8 50.0 C739.4 46.7 741.6 41.9 743.5 43.4 C745.4 44.9 746.1 54.6 748.0 59.0 C749.9 63.4 750.9 65.5 754.6 70.0 C758.3 74.5 764.6 79.4 770.2 85.7 C775.8 92.0 782.8 101.0 788.0 108.0 C793.2 115.0 797.7 121.7 801.4 128.0 C805.1 134.3 807.3 141.4 810.3 145.8 C813.3 150.2 815.5 150.2 819.2 154.7 C822.9 159.1 828.0 166.6 832.5 172.5 C837.0 178.4 841.9 185.1 846.0 190.3 C850.1 195.5 852.6 202.1 857.0 203.6 C861.4 205.1 867.0 198.5 872.6 199.2 C878.2 199.9 885.2 205.0 890.4 208.0 C895.6 211.0 903.0 214.0 903.8 217.0 C904.5 220.0 901.6 222.9 894.9 225.9 C888.2 228.9 874.1 234.1 863.7 234.8 C853.3 235.6 842.9 232.2 832.5 230.4 C822.1 228.6 809.5 225.2 801.4 223.7 C793.2 222.2 788.0 225.6 783.6 221.5 C779.2 217.4 779.5 204.4 774.7 199.2 C769.9 194.0 762.4 194.0 754.6 190.3 C746.8 186.6 736.0 182.1 727.9 176.9 C719.8 171.7 712.8 166.2 705.7 159.1 C698.7 152.0 691.9 142.0 685.6 134.6 C679.3 127.2 671.5 120.2 667.8 114.6 C664.1 109.0 661.9 106.4 663.4 101.2Z" fill="#000" filter="url(#gedge)"/>
<path d="M663.0 101.0 C666.7 94.7 679.2 83.3 690.0 77.0 C700.8 70.7 719.2 68.7 728.0 63.0 C736.8 57.3 739.7 43.7 743.0 43.0 C746.3 42.3 748.5 47.8 748.0 59.0 C747.5 70.2 743.0 94.8 740.0 110.0 C737.0 125.2 735.8 141.8 730.0 150.0 C724.2 158.2 712.3 161.5 705.0 159.0 C697.7 156.5 692.2 142.3 686.0 135.0 C679.8 127.7 671.8 120.7 668.0 115.0 C664.2 109.3 659.3 107.3 663.0 101.0Z" fill="#d8d8a8" opacity="0.35" filter="url(#soft3)"/>
<path d="M743.0 43.0 C747.4 41.3 750.1 62.8 754.6 70.0 C759.1 77.2 762.3 76.3 770.0 86.0 C777.7 95.7 792.8 116.5 801.0 128.0 C809.2 139.5 811.5 144.7 819.0 155.0 C826.5 165.3 843.3 182.5 846.0 190.0 C848.7 197.5 841.8 202.0 835.0 200.0 C828.2 198.0 815.8 186.3 805.0 178.0 C794.2 169.7 780.8 160.5 770.0 150.0 C759.2 139.5 747.0 126.7 740.0 115.0 C733.0 103.3 727.5 92.0 728.0 80.0 C728.5 68.0 738.6 44.7 743.0 43.0Z" fill="#d89a8a" opacity="0.35" filter="url(#soft3)"/>
<mask id="gRr" maskUnits="userSpaceOnUse" x="0" y="0" width="1168" height="400"><path d="M743.0 43.0 C747.4 41.3 750.1 62.8 754.6 70.0 C759.1 77.2 762.3 76.3 770.0 86.0 C777.7 95.7 792.8 116.5 801.0 128.0 C809.2 139.5 811.5 144.7 819.0 155.0 C826.5 165.3 843.3 182.5 846.0 190.0 C848.7 197.5 841.8 202.0 835.0 200.0 C828.2 198.0 815.8 186.3 805.0 178.0 C794.2 169.7 780.8 160.5 770.0 150.0 C759.2 139.5 747.0 126.7 740.0 115.0 C733.0 103.3 727.5 92.0 728.0 80.0 C728.5 68.0 738.6 44.7 743.0 43.0Z" fill="#fff" filter="url(#soft)"/></mask>
<g mask="url(#gRr)" opacity="0.75"><g transform="rotate(52 780 130)"><rect x="630.0" y="-20.0" width="300" height="300" filter="url(#redt)"/></g></g>
<path d="M780.0 168.0 C784.7 156.7 801.0 146.3 812.0 150.0 C823.0 153.7 838.5 181.0 846.0 190.0 C853.5 199.0 856.3 197.0 857.0 204.0 C857.7 211.0 858.7 228.5 850.0 232.0 C841.3 235.5 816.0 227.3 805.0 225.0 C794.0 222.7 788.2 227.5 784.0 218.0 C779.8 208.5 775.3 179.3 780.0 168.0Z" fill="#58c858" opacity="0.5" filter="url(#soft3)"/>
<path d="M738.0 198.0 C741.0 193.5 750.2 191.5 757.0 191.0 C763.8 190.5 774.7 189.8 779.0 195.0 C783.3 200.2 778.5 216.3 783.0 222.0 C787.5 227.7 797.8 226.7 806.0 229.0 C814.2 231.3 822.0 234.5 832.0 236.0 C842.0 237.5 856.7 239.0 866.0 238.0 C875.3 237.0 882.7 232.5 888.0 230.0 C893.3 227.5 895.0 223.0 898.0 223.0 C901.0 223.0 906.0 226.7 906.0 230.0 C906.0 233.3 904.0 239.7 898.0 243.0 C892.0 246.3 881.0 248.8 870.0 250.0 C859.0 251.2 840.3 249.8 832.0 250.0 C823.7 250.2 824.0 249.0 820.0 251.0 C816.0 253.0 812.0 258.8 808.0 262.0 C804.0 265.2 800.5 270.3 796.0 270.0 C791.5 269.7 786.7 263.8 781.0 260.0 C775.3 256.2 767.5 251.0 762.0 247.0 C756.5 243.0 751.8 240.8 748.0 236.0 C744.2 231.2 740.7 224.3 739.0 218.0 C737.3 211.7 735.0 202.5 738.0 198.0Z" fill="#dc5c58" opacity="0.82" filter="url(#soft)"/>
<mask id="rb1" maskUnits="userSpaceOnUse" x="0" y="0" width="1168" height="400"><path d="M738.0 198.0 C741.0 193.5 750.2 191.5 757.0 191.0 C763.8 190.5 774.7 189.8 779.0 195.0 C783.3 200.2 778.5 216.3 783.0 222.0 C787.5 227.7 797.8 226.7 806.0 229.0 C814.2 231.3 822.0 234.5 832.0 236.0 C842.0 237.5 856.7 239.0 866.0 238.0 C875.3 237.0 882.7 232.5 888.0 230.0 C893.3 227.5 895.0 223.0 898.0 223.0 C901.0 223.0 906.0 226.7 906.0 230.0 C906.0 233.3 904.0 239.7 898.0 243.0 C892.0 246.3 881.0 248.8 870.0 250.0 C859.0 251.2 840.3 249.8 832.0 250.0 C823.7 250.2 824.0 249.0 820.0 251.0 C816.0 253.0 812.0 258.8 808.0 262.0 C804.0 265.2 800.5 270.3 796.0 270.0 C791.5 269.7 786.7 263.8 781.0 260.0 C775.3 256.2 767.5 251.0 762.0 247.0 C756.5 243.0 751.8 240.8 748.0 236.0 C744.2 231.2 740.7 224.3 739.0 218.0 C737.3 211.7 735.0 202.5 738.0 198.0Z" fill="#fff" filter="url(#soft)"/></mask>
<g mask="url(#rb1)" opacity="0.55"><g transform="rotate(15 820 230)"><rect x="690.0" y="100.0" width="260" height="260" filter="url(#redt)"/></g></g>
<path d="M705 250 Q725 234 745 230" fill="none" stroke="#3a1420" stroke-width="6" opacity="0.45" filter="url(#soft3)"/>
<path d="M733 266 Q726 292 748 314 Q770 328 800 332" fill="none" stroke="#3a1420" stroke-width="7" opacity="0.4" filter="url(#soft3)"/>
<mask id="gRb" maskUnits="userSpaceOnUse" x="0" y="0" width="1168" height="400"><path d="M856.0 200.0 C860.5 196.7 872.0 195.2 879.0 197.0 C886.0 198.8 893.8 207.2 897.8 211.0 C901.8 214.8 904.6 217.4 903.0 220.0 C901.4 222.6 894.6 225.1 888.4 226.5 C882.2 227.9 871.9 230.0 865.8 228.4 C859.7 226.8 853.6 221.7 852.0 217.0 C850.4 212.3 851.5 203.3 856.0 200.0Z" fill="#fff" filter="url(#soft)"/></mask>
<g mask="url(#gRb)"><g transform="rotate(30 880 210)"><rect x="820.0" y="150.0" width="120" height="120" filter="url(#fib)"/></g></g>
<path d="M801.9 263.2 C804.8 255.4 806.2 256.4 816.4 254.4 C826.6 252.5 850.9 255.9 863.0 251.5 C875.1 247.1 882.4 233.5 889.2 228.2 C896.0 222.9 899.4 220.9 903.8 219.5 C908.2 218.1 916.0 212.8 915.4 219.5 C914.8 226.2 912.6 250.3 900.0 260.0 C887.4 269.7 850.2 270.9 839.7 277.7 C829.2 284.5 837.8 292.3 836.8 301.0 C835.8 309.7 835.4 325.7 833.9 330.1 C832.4 334.5 833.3 328.6 828.0 327.2 C822.7 325.8 806.7 325.8 801.9 321.4 C797.1 317.0 799.0 310.7 799.0 301.0 C799.0 291.3 799.0 271.0 801.9 263.2Z" fill="#b4c0c8" opacity="0.72" filter="url(#soft)"/>
<path d="M903.8 219.5 C908.2 218.1 908.1 217.1 915.4 219.5 C922.7 221.9 937.3 229.6 947.5 234.0 C957.7 238.4 967.9 241.8 976.6 245.7 C985.3 249.6 993.6 252.5 999.9 257.3 C1006.2 262.2 1010.5 268.5 1014.4 274.8 C1018.2 281.1 1020.6 287.2 1023.0 295.0 C1025.4 302.8 1029.0 313.1 1029.0 321.4 C1029.0 329.7 1026.9 338.4 1023.0 344.7 C1019.1 351.0 1013.4 354.8 1005.7 359.2 C998.0 363.6 986.3 368.0 976.6 370.9 C966.9 373.8 957.2 375.5 947.5 376.7 C937.8 377.9 928.0 378.7 918.3 378.2 C908.6 377.7 896.9 375.5 889.2 373.8 C881.5 372.1 876.7 371.6 872.0 368.0 C867.3 364.4 865.5 357.0 861.0 352.0 C856.5 347.0 849.5 341.6 845.0 338.0 C840.5 334.4 835.3 336.3 833.9 330.1 C832.5 323.9 835.8 309.7 836.8 301.0 C837.8 292.3 835.3 285.9 839.7 277.7 C844.1 269.4 854.8 259.8 863.0 251.5 C871.2 243.2 882.4 233.5 889.2 228.2 C896.0 222.9 899.4 220.9 903.8 219.5Z" fill="url(#cyR)"/>
<path d="M903.8 219.5 C908.2 218.1 908.1 217.1 915.4 219.5 C922.7 221.9 937.3 229.6 947.5 234.0 C957.7 238.4 967.9 241.8 976.6 245.7 C985.3 249.6 993.6 252.5 999.9 257.3 C1006.2 262.2 1010.5 268.5 1014.4 274.8 C1018.2 281.1 1020.6 287.2 1023.0 295.0 C1025.4 302.8 1029.0 313.1 1029.0 321.4 C1029.0 329.7 1026.9 338.4 1023.0 344.7 C1019.1 351.0 1013.4 354.8 1005.7 359.2 C998.0 363.6 986.3 368.0 976.6 370.9 C966.9 373.8 957.2 375.5 947.5 376.7 C937.8 377.9 928.0 378.7 918.3 378.2 C908.6 377.7 896.9 375.5 889.2 373.8 C881.5 372.1 876.7 371.6 872.0 368.0 C867.3 364.4 865.5 357.0 861.0 352.0 C856.5 347.0 849.5 341.6 845.0 338.0 C840.5 334.4 835.3 336.3 833.9 330.1 C832.5 323.9 835.8 309.7 836.8 301.0 C837.8 292.3 835.3 285.9 839.7 277.7 C844.1 269.4 854.8 259.8 863.0 251.5 C871.2 243.2 882.4 233.5 889.2 228.2 C896.0 222.9 899.4 220.9 903.8 219.5Z" fill="#30aaa8" filter="url(#cyt)" opacity="0.8"/>
<path d="M810.6 257.3 C819.3 253.9 849.9 259.2 863.0 254.4 C876.1 249.6 881.4 233.5 889.2 228.2 C897.0 222.9 902.3 220.4 909.6 222.4 C916.9 224.4 927.1 235.1 932.9 239.9 C938.7 244.8 936.7 248.1 944.5 251.5 C952.3 254.9 971.2 254.4 979.5 260.2 C987.8 266.0 989.6 278.6 994.0 286.4 C998.4 294.2 1007.2 301.4 1005.7 306.8 C1004.2 312.2 993.5 315.6 985.3 318.5 C977.0 321.4 966.9 325.3 956.2 324.3 C945.5 323.3 932.9 317.9 921.3 312.6 C909.6 307.3 898.9 298.1 886.3 292.3 C873.7 286.5 858.2 280.6 845.6 277.7 C833.0 274.8 816.4 278.2 810.6 274.8 C804.8 271.4 801.9 260.7 810.6 257.3Z" fill="#dc6a5e" opacity="0.8"/>
<mask id="rR" maskUnits="userSpaceOnUse" x="0" y="0" width="1168" height="400"><path d="M810.6 257.3 C819.3 253.9 849.9 259.2 863.0 254.4 C876.1 249.6 881.4 233.5 889.2 228.2 C897.0 222.9 902.3 220.4 909.6 222.4 C916.9 224.4 927.1 235.1 932.9 239.9 C938.7 244.8 936.7 248.1 944.5 251.5 C952.3 254.9 971.2 254.4 979.5 260.2 C987.8 266.0 989.6 278.6 994.0 286.4 C998.4 294.2 1007.2 301.4 1005.7 306.8 C1004.2 312.2 993.5 315.6 985.3 318.5 C977.0 321.4 966.9 325.3 956.2 324.3 C945.5 323.3 932.9 317.9 921.3 312.6 C909.6 307.3 898.9 298.1 886.3 292.3 C873.7 286.5 858.2 280.6 845.6 277.7 C833.0 274.8 816.4 278.2 810.6 274.8 C804.8 271.4 801.9 260.7 810.6 257.3Z" fill="#fff" filter="url(#soft)"/></mask>
<g mask="url(#rR)" opacity="0.8"><g transform="rotate(20 910 280)"><rect x="760.0" y="130.0" width="300" height="300" filter="url(#redt)"/></g></g>
<path d="M912 318 Q930 312 950 322 Q958 338 948 350 Q930 352 918 342 Q908 330 912 318Z" fill="#c7b3c6" opacity="0.6"/>
<path d="M962 330 Q975 326 978 338 Q972 352 962 350 Q956 340 962 330Z" fill="#c7b3c6" opacity="0.5"/>
<path d="M134 572 H121.5 V1215.8 H997.2 V1203" fill="none" stroke="#111" stroke-width="1.8"/>
<line x1="121.5" y1="702.0" x2="134" y2="702.0" stroke="#111" stroke-width="1.8"/>
<line x1="121.5" y1="833.0" x2="134" y2="833.0" stroke="#111" stroke-width="1.8"/>
<line x1="121.5" y1="959.2" x2="134" y2="959.2" stroke="#111" stroke-width="1.8"/>
<line x1="121.5" y1="1088.1" x2="134" y2="1088.1" stroke="#111" stroke-width="1.8"/>
<line x1="209.1" y1="1215.8" x2="209.1" y2="1203" stroke="#111" stroke-width="1.8"/>
<line x1="296.6" y1="1215.8" x2="296.6" y2="1203" stroke="#111" stroke-width="1.8"/>
<line x1="384.2" y1="1215.8" x2="384.2" y2="1203" stroke="#111" stroke-width="1.8"/>
<line x1="471.7" y1="1215.8" x2="471.7" y2="1203" stroke="#111" stroke-width="1.8"/>
<line x1="559.2" y1="1215.8" x2="559.2" y2="1203" stroke="#111" stroke-width="1.8"/>
<line x1="646.8" y1="1215.8" x2="646.8" y2="1203" stroke="#111" stroke-width="1.8"/>
<line x1="734.4" y1="1215.8" x2="734.4" y2="1203" stroke="#111" stroke-width="1.8"/>
<line x1="821.9" y1="1215.8" x2="821.9" y2="1203" stroke="#111" stroke-width="1.8"/>
<line x1="909.5" y1="1215.8" x2="909.5" y2="1203" stroke="#111" stroke-width="1.8"/>
<circle cx="135.2" cy="599.1" r="7.2" fill="#fff" stroke="#3b47a3" stroke-width="1.9"/>
<circle cx="299" cy="624.8" r="6.0" fill="#fff" stroke="#3b47a3" stroke-width="1.9"/>
<circle cx="170.4" cy="727.6" r="7.2" fill="#fff" stroke="#3b47a3" stroke-width="1.9"/>
<circle cx="130.1" cy="753.3" r="7.2" fill="#fff" stroke="#3b47a3" stroke-width="1.9"/>
<circle cx="187.7" cy="753.3" r="7.2" fill="#fff" stroke="#3b47a3" stroke-width="1.9"/>
<circle cx="165.4" cy="856.1" r="7.2" fill="#fff" stroke="#3b47a3" stroke-width="1.9"/>
<circle cx="402.8" cy="856.1" r="7.2" fill="#fff" stroke="#3b47a3" stroke-width="1.9"/>
<circle cx="340" cy="933.2" r="7.2" fill="#fff" stroke="#3b47a3" stroke-width="1.9"/>
<circle cx="121.5" cy="624.8" r="7.2" fill="#4353ad"/>
<circle cx="121.5" cy="676.2" r="7.2" fill="#4353ad"/>
<circle cx="121.5" cy="701.9" r="7.2" fill="#4353ad"/>
<circle cx="121.5" cy="727.6" r="7.2" fill="#4353ad"/>
<circle cx="121.5" cy="753.3" r="7.2" fill="#4353ad"/>
<circle cx="121.5" cy="779.0" r="7.2" fill="#4353ad"/>
<circle cx="121.5" cy="830.4" r="7.2" fill="#4353ad"/>
<circle cx="141.8" cy="624.8" r="7.2" fill="#4353ad"/>
<circle cx="158.8" cy="676.2" r="7.2" fill="#4353ad"/>
<circle cx="178.7" cy="701.9" r="7.2" fill="#4353ad"/>
<circle cx="221.8" cy="701.9" r="7.2" fill="#4353ad"/>
<circle cx="151.1" cy="727.6" r="7.2" fill="#4353ad"/>
<circle cx="170.2" cy="753.3" r="7.2" fill="#4353ad"/>
<circle cx="270.3" cy="599.1" r="7.2" fill="#4353ad"/>
<circle cx="311.3" cy="779.0" r="7.2" fill="#4353ad"/>
<circle cx="362.7" cy="804.7" r="7.2" fill="#4353ad"/>
<circle cx="371.6" cy="804.7" r="7.2" fill="#4353ad"/>
<circle cx="371.6" cy="856.1" r="7.2" fill="#4353ad"/>
<circle cx="209.6" cy="830.4" r="7.2" fill="#4353ad"/>
<circle cx="183.4" cy="881.8" r="7.2" fill="#4353ad"/>
<circle cx="175.3" cy="933.2" r="7.2" fill="#4353ad"/>
<circle cx="654.7" cy="958.9" r="7.2" fill="#4353ad"/>
<circle cx="995.6" cy="881.8" r="7.2" fill="#4353ad"/>
<circle cx="154.1" cy="1215.9" r="7.2" fill="#4353ad"/>
<line x1="121.5" y1="701.6" x2="986.3" y2="701.6" stroke="#6b6b6b" stroke-width="3.1" stroke-dasharray="16.4 7" stroke-dashoffset="8.1"/>
<line x1="121.5" y1="805.6" x2="986.3" y2="805.6" stroke="#d0474f" stroke-width="3.1" stroke-dasharray="16.4 7" stroke-dashoffset="8.1"/>
<line x1="121.6" y1="736.6" x2="997.7" y2="946.8" stroke="#3b47a3" stroke-width="1.6"/>
<line x1="221.8" y1="701.4" x2="233.2" y2="390" stroke="#4353ad" stroke-width="5"/>
<path d="M234.5 362.1 Q225 385 209.3 403.7 L232.9 396.5 L256 405 Q243 385 234.5 362.1Z" fill="#4353ad"/>
<line x1="654.7" y1="959" x2="864.5" y2="402" stroke="#4353ad" stroke-width="5"/>
<path d="M873.4 376.2 Q857 393 837.5 406.5 L862.1 408 L881.1 423.5 Q874 400 873.4 376.2Z" fill="#4353ad"/>
<circle cx="401.3" cy="487.5" r="7.3" fill="#4353ad"/>
<circle cx="401.3" cy="520" r="7" fill="#fff" stroke="#4353ad" stroke-width="1.9"/>
<path d="M384.6 553 H394.6 M402.5 553 H418" stroke="#d0474f" stroke-width="3.1"/>
<rect x="90.8" y="832.10" width="9.2" height="1.8" fill="#111"/>
<rect x="78.0" y="958.30" width="10.6" height="1.8" fill="#111"/>
<rect x="78.0" y="1087.20" width="10.6" height="1.8" fill="#111"/>
<rect x="78.0" y="1214.90" width="10.6" height="1.8" fill="#111"/>
<text x="427.9" y="494.8" font-size="21.5" text-anchor="start" textLength="47.1" lengthAdjust="spacingAndGlyphs" >Data</text>
<text x="427.9" y="527.4" font-size="21.5" text-anchor="start" textLength="208.2" lengthAdjust="spacingAndGlyphs" >Outlier minimalized</text>
<text x="427.9" y="560" font-size="21.5" text-anchor="start" textLength="346.6" lengthAdjust="spacingAndGlyphs" >Significant postoperative decline</text>
<text x="114.6" y="578.25" font-size="24" text-anchor="end">5</text>
<text x="114.6" y="708.25" font-size="24" text-anchor="end">0</text>
<text x="114.6" y="839.25" font-size="24" text-anchor="end">5</text>
<text x="114.6" y="965.45" font-size="24" text-anchor="end" textLength="24.6" lengthAdjust="spacingAndGlyphs">10</text>
<text x="114.6" y="1094.35" font-size="24" text-anchor="end" textLength="24.6" lengthAdjust="spacingAndGlyphs">15</text>
<text x="114.6" y="1222.05" font-size="24" text-anchor="end" textLength="24.6" lengthAdjust="spacingAndGlyphs">20</text>
<text x="121.5" y="1243" font-size="24" text-anchor="middle">0</text>
<text x="209.1" y="1243" font-size="24" text-anchor="middle" textLength="24.4" lengthAdjust="spacingAndGlyphs">10</text>
<text x="296.6" y="1243" font-size="24" text-anchor="middle" textLength="24.4" lengthAdjust="spacingAndGlyphs">20</text>
<text x="384.2" y="1243" font-size="24" text-anchor="middle" textLength="24.4" lengthAdjust="spacingAndGlyphs">30</text>
<text x="471.7" y="1243" font-size="24" text-anchor="middle" textLength="24.4" lengthAdjust="spacingAndGlyphs">40</text>
<text x="559.2" y="1243" font-size="24" text-anchor="middle" textLength="24.4" lengthAdjust="spacingAndGlyphs">50</text>
<text x="646.8" y="1243" font-size="24" text-anchor="middle" textLength="24.4" lengthAdjust="spacingAndGlyphs">60</text>
<text x="734.4" y="1243" font-size="24" text-anchor="middle" textLength="24.4" lengthAdjust="spacingAndGlyphs">70</text>
<text x="821.9" y="1243" font-size="24" text-anchor="middle" textLength="24.4" lengthAdjust="spacingAndGlyphs">80</text>
<text x="909.5" y="1243" font-size="24" text-anchor="middle" textLength="24.4" lengthAdjust="spacingAndGlyphs">90</text>
<text x="997.0" y="1243" font-size="24" text-anchor="middle" textLength="37.6" lengthAdjust="spacingAndGlyphs">100</text>
<text x="180.3" y="1271.2" font-size="26" text-anchor="start" textLength="756.7" lengthAdjust="spacingAndGlyphs" >Anterior subfasciculus of the middle longitidinal fasciculus (%)</text>
<text transform="translate(64.8 1133.7) rotate(-90)" font-size="26" textLength="480.5" lengthAdjust="spacingAndGlyphs">Change in picture naming performance</text>
<text transform="translate(1025.6 611.2) rotate(-90)" font-size="23.5" text-anchor="middle" textLength="147" lengthAdjust="spacingAndGlyphs">Postoperative</text>
<text transform="translate(1053.8 611.35) rotate(-90)" font-size="23.5" text-anchor="middle" textLength="146" lengthAdjust="spacingAndGlyphs">improvement</text>
<text transform="translate(1025.6 777.65) rotate(-90)" font-size="23.5" text-anchor="middle" textLength="147.5" lengthAdjust="spacingAndGlyphs">Postoperative</text>
<text transform="translate(1053.8 778.4) rotate(-90)" font-size="23.5" text-anchor="middle" textLength="76" lengthAdjust="spacingAndGlyphs">decline</text>
</svg>
</body></html>
